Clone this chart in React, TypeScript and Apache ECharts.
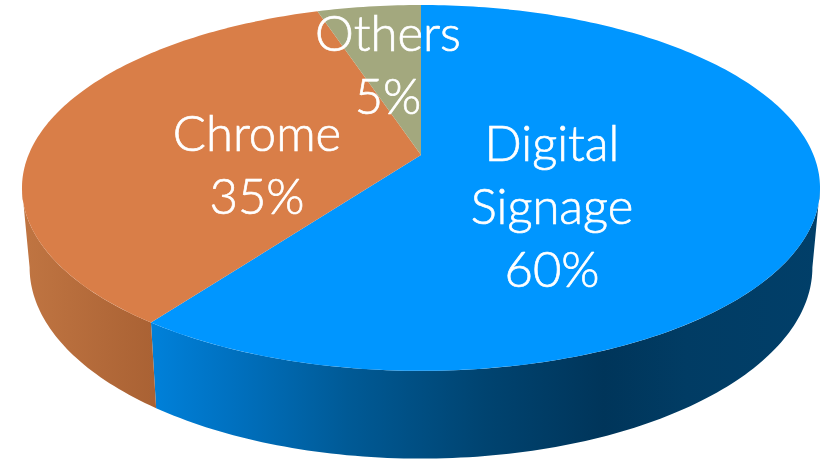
import React, { useEffect, useRef } from "react";
import * as echarts from "echarts";

const categories = ["Digital Signage", "Chrome", "Others"];
const values = [60, 35, 5];
const topColors = ["#0096FF", "#D97E48", "#A3A87E"];

const FONT = "Lato";
const FONT_SIZE = 49;
const LINE_H = 63;
const labelCenters: [number, number][] = [
  [552, 205],
  [257, 163],
  [388, 63],
];

const CX = 421;
const K = 0.18;
const TOP = { b: 392.5, a: 177, c: 155 };
const BASE = { b: 385, a: 185, c: 233 };
const FRONT_MIN = 100.4;
const FRONT_MAX = 259.6;

type Plane = { b: number; a: number; c: number };
function project(deg: number, p: Plane): [number, number] {
  const t = (deg * Math.PI) / 180;
  const x = Math.sin(t);
  const v = -Math.cos(t);
  const w = 1 - K * v;
  return [CX + (p.b * x) / w, p.c + (p.a * v) / w];
}
function arc(from: number, to: number, p: Plane): [number, number][] {
  const n = Math.max(2, Math.ceil(Math.abs(to - from)));
  const out: [number, number][] = [];
  for (let i = 0; i <= n; i++) out.push(project(from + ((to - from) * i) / n, p));
  return out;
}
function toPath(pts: [number, number][]): string {
  return pts.map((q, i) => (i ? "L" : "M") + q[0].toFixed(2) + " " + q[1].toFixed(2)).join(" ") + " Z";
}

const wallFills = [
  () =>
    new echarts.graphic.LinearGradient(
      145, 0, 820, 0,
      [
        { offset: 0, color: "#0082DC" },
        { offset: 0.12, color: "#0072C2" },
        { offset: 0.3, color: "#005A96" },
        { offset: 0.5, color: "#004471" },
        { offset: 0.68, color: "#00355A" },
        { offset: 0.8, color: "#013C64" },
        { offset: 1, color: "#013F69" },
      ],
      true
    ),
  () =>
    new echarts.graphic.LinearGradient(
      22, 0, 152, 0,
      [
        { offset: 0, color: "#C07542" },
        { offset: 1, color: "#AA6234" },
      ],
      true
    ),
  () => "#8A8E6B",
];

const total = values.reduce((s, v) => s + v, 0);

export default function App() {
  const ref = useRef<HTMLDivElement>(null);
  useEffect(() => {
    const chart = echarts.init(ref.current!, undefined, { renderer: "svg" });
    chart.setOption({
      animation: false,
      backgroundColor: "#ffffff",
      series: [
        {
          type: "custom",
          coordinateSystem: "none",
          silent: true,
          data: values.map((v) => [v]),
          renderItem: (params: any, api: any) => {
            const i = params.dataIndex;
            const val = api.value(0);
            let before = 0;
            for (let j = 0; j < i; j++) before += values[j];
            const a0 = (before / total) * 360;
            const a1 = ((before + val) / total) * 360;
            const children: any[] = [];
            const w0 = Math.max(a0, FRONT_MIN);
            const w1 = Math.min(a1, FRONT_MAX);
            if (w1 > w0) {
              const pts = [...arc(w0, w1, TOP), ...arc(w1, w0, BASE)];
              children.push({
                type: "path",
                shape: { pathData: toPath(pts) },
                style: { fill: wallFills[i]() },
              });
            }
            const apex: [number, number] = [CX, TOP.c];
            children.push({
              type: "path",
              shape: { pathData: toPath([apex, ...arc(a0, a1, TOP)]) },
              style: { fill: topColors[i] },
            });
            const lines = [...categories[i].split(" "), Math.round((val / total) * 100) + "%"];
            const [lx, ly] = labelCenters[i];
            lines.forEach((line, n) => {
              children.push({
                type: "text",
                x: lx,
                y: ly + (n - (lines.length - 1) / 2) * LINE_H,
                style: {
                  text: line,
                  fill: "#ffffff",
                  stroke: "#ffffff",
                  lineWidth: 0.7,
                  font: `300 ${FONT_SIZE}px ${FONT}, "Open Sans", sans-serif`,
                  textAlign: "center",
                  textVerticalAlign: "middle",
                },
              });
            });
            return { type: "group", children };
          },
        },
      ],
    });
    return () => chart.dispose();
  }, []);
  return (
    <div
      ref={ref}
      style={{ position: "absolute", left: 0, top: 0, width: 826, height: 461 }}
    />
  );
}
